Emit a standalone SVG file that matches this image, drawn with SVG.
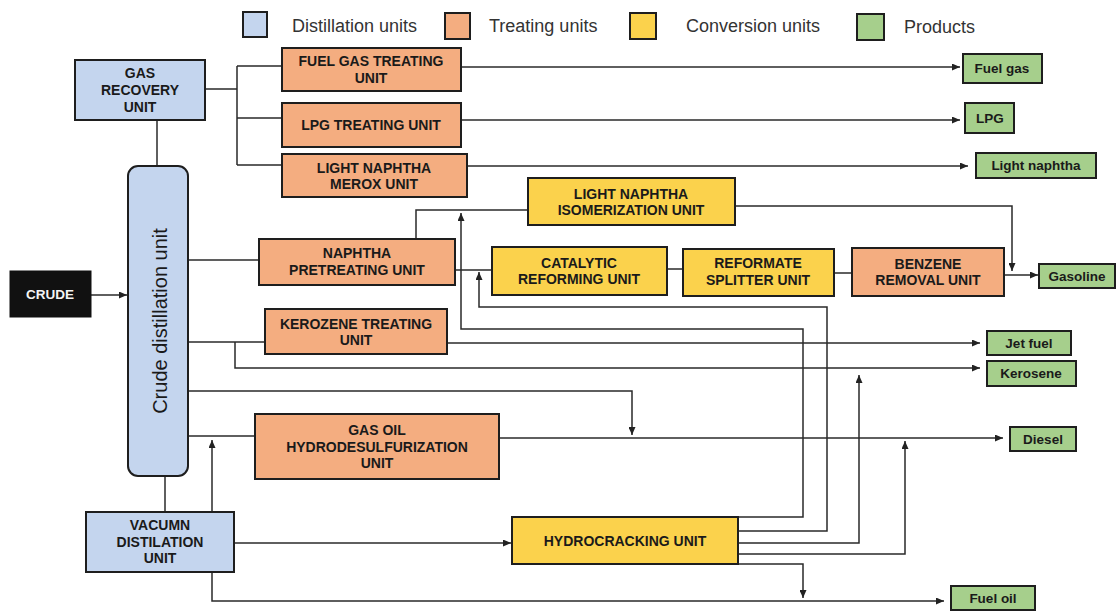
<svg xmlns="http://www.w3.org/2000/svg" width="1117" height="611" viewBox="0 0 1117 611">
  <defs>
    <marker id="arrow" viewBox="0 0 8 7" refX="8" refY="3.5" markerWidth="8" markerHeight="7" markerUnits="userSpaceOnUse" orient="auto">
      <path d="M0,0 L8,3.5 L0,7 z" fill="#222"/>
    </marker>
  </defs>
  <style>
    .box { stroke: #1e1e1e; stroke-width: 2; }
    .dist { fill: #c4d5ee; }
    .treat { fill: #f4ad80; }
    .conv { fill: #fbd24c; }
    .prod { fill: #a6cf8c; }
    .lbl { font-family: "Comic Sans MS", "Liberation Sans", sans-serif; font-weight: bold; font-size: 14px; fill: #1a1a1a; text-anchor: middle; }
    .plbl { font-family: "Comic Sans MS", "Liberation Sans", sans-serif; font-weight: bold; font-size: 13.5px; fill: #1a1a1a; text-anchor: middle; }
    .legend { font-family: "Liberation Sans", Arial, sans-serif; font-size: 18px; fill: #333; }
    .conn path { fill: none; stroke: #2a2a2a; stroke-width: 1.5; }
    .arr { marker-end: url(#arrow); }
  </style>

  <rect width="1117" height="611" fill="#ffffff"/>

  <!-- legend -->
  <g id="legend">
    <rect class="box dist" x="243" y="12" width="24" height="25" stroke-width="1.5"/>
    <text class="legend" x="292" y="32">Distillation units</text>
    <rect class="box treat" x="445" y="13" width="25" height="26" stroke-width="1.5"/>
    <text class="legend" x="489" y="32">Treating units</text>
    <rect class="box conv" x="630" y="13" width="26" height="26" stroke-width="1.5"/>
    <text class="legend" x="686" y="32">Conversion units</text>
    <rect class="box prod" x="857" y="14" width="27" height="26" stroke-width="1.5"/>
    <text class="legend" x="904" y="33">Products</text>
  </g>

  <!-- connectors -->
  <g id="connectors" class="conn">
    <path d="M157,120 V166"/>
    <path d="M205,89 H237 M237,66 V165 M237,66 H282 M237,118 H282 M237,165 H282"/>
    <path class="arr" d="M461,67 H960"/>
    <path class="arr" d="M461,120 H960"/>
    <path class="arr" d="M467,166 H968"/>
    <path class="arr" d="M91,295 H127"/>
    <path d="M189,260 H259"/>
    <path d="M416,239 V210 H528"/>
    <path d="M455,270 H492"/>
    <path d="M667,269 H683"/>
    <path d="M834,273 H852"/>
    <path class="arr" d="M1004,275 H1038"/>
    <path class="arr" d="M735,206 H1012 V271"/>
    <path d="M189,342 H265"/>
    <path class="arr" d="M235,342 V368 H980"/>
    <path class="arr" d="M447,343 H980"/>
    <path class="arr" d="M189,391 H632 V435"/>
    <path d="M189,436 H255"/>
    <path class="arr" d="M499,438 H1003"/>
    <path d="M165,476 V512"/>
    <path class="arr" d="M212,512 V440"/>
    <path class="arr" d="M234,543 H511"/>
    <path class="arr" d="M212,572 V601 H944"/>
    <path class="arr" d="M738,517 H803 V329 H461 V213"/>
    <path class="arr" d="M738,531 H827 V307 H479 V272"/>
    <path class="arr" d="M738,543 H859 V375"/>
    <path class="arr" d="M738,554 H905 V441"/>
    <path class="arr" d="M738,564 H803 V598"/>
  </g>

  <!-- feed -->
  <g id="crude">
    <rect x="10" y="271" width="81" height="46" fill="#111" stroke="#111" stroke-width="1"/>
    <text class="lbl" x="50" y="299" style="fill:#f4f4f4;font-size:13.5px">CRUDE</text>
  </g>

  <!-- distillation units -->
  <g id="crude-distillation-unit">
    <rect class="box dist" x="128" y="166" width="60" height="310" rx="10"/>
    <text x="0" y="0" transform="translate(167,321) rotate(-90)" font-family="'Comic Sans MS', 'Liberation Sans', sans-serif" font-size="20" fill="#1a1a1a" text-anchor="middle">Crude distillation unit</text>
  </g>
  <g id="gas-recovery-unit">
    <rect class="box dist" x="75" y="60" width="130" height="60"/>
    <text class="lbl" x="140" y="78">GAS</text>
    <text class="lbl" x="140" y="95">RECOVERY</text>
    <text class="lbl" x="140" y="112">UNIT</text>
  </g>
  <g id="vacuum-distillation-unit">
    <rect class="box dist" x="86" y="512" width="148" height="60"/>
    <text class="lbl" x="160" y="530">VACUMN</text>
    <text class="lbl" x="160" y="547">DISTILATION</text>
    <text class="lbl" x="160" y="563">UNIT</text>
  </g>

  <!-- treating units -->
  <g id="fuel-gas-treating-unit">
    <rect class="box treat" x="282" y="48" width="179" height="43"/>
    <text class="lbl" x="371" y="66">FUEL GAS TREATING</text>
    <text class="lbl" x="371" y="83">UNIT</text>
  </g>
  <g id="lpg-treating-unit">
    <rect class="box treat" x="282" y="103" width="179" height="44"/>
    <text class="lbl" x="371" y="130">LPG TREATING UNIT</text>
  </g>
  <g id="light-naphtha-merox-unit">
    <rect class="box treat" x="282" y="154" width="185" height="43"/>
    <text class="lbl" x="374" y="173">LIGHT NAPHTHA</text>
    <text class="lbl" x="374" y="189">MEROX UNIT</text>
  </g>
  <g id="naphtha-pretreating-unit">
    <rect class="box treat" x="259" y="239" width="196" height="46"/>
    <text class="lbl" x="357" y="258">NAPHTHA</text>
    <text class="lbl" x="357" y="275">PRETREATING UNIT</text>
  </g>
  <g id="kerozene-treating-unit">
    <rect class="box treat" x="265" y="309" width="182" height="45"/>
    <text class="lbl" x="356" y="329">KEROZENE TREATING</text>
    <text class="lbl" x="356" y="345">UNIT</text>
  </g>
  <g id="gas-oil-hds-unit">
    <rect class="box treat" x="255" y="414" width="244" height="65"/>
    <text class="lbl" x="377" y="435">GAS OIL</text>
    <text class="lbl" x="377" y="452">HYDRODESULFURIZATION</text>
    <text class="lbl" x="377" y="468">UNIT</text>
  </g>
  <g id="benzene-removal-unit">
    <rect class="box treat" x="852" y="248" width="152" height="48"/>
    <text class="lbl" x="928" y="269">BENZENE</text>
    <text class="lbl" x="928" y="285">REMOVAL UNIT</text>
  </g>

  <!-- conversion units -->
  <g id="isomerization-unit">
    <rect class="box conv" x="528" y="178" width="207" height="47"/>
    <text class="lbl" x="631" y="199">LIGHT NAPHTHA</text>
    <text class="lbl" x="631" y="215">ISOMERIZATION UNIT</text>
  </g>
  <g id="catalytic-reforming-unit">
    <rect class="box conv" x="492" y="247" width="175" height="48"/>
    <text class="lbl" x="579" y="268">CATALYTIC</text>
    <text class="lbl" x="579" y="284">REFORMING UNIT</text>
  </g>
  <g id="reformate-splitter-unit">
    <rect class="box conv" x="683" y="249" width="151" height="47"/>
    <text class="lbl" x="758" y="268">REFORMATE</text>
    <text class="lbl" x="758" y="285">SPLITTER UNIT</text>
  </g>
  <g id="hydrocracking-unit">
    <rect class="box conv" x="512" y="517" width="226" height="47"/>
    <text class="lbl" x="625" y="546">HYDROCRACKING UNIT</text>
  </g>

  <!-- products -->
  <g id="fuel-gas">
    <rect class="box prod" x="963" y="54" width="79" height="29"/>
    <text class="plbl" x="1002" y="73">Fuel gas</text>
  </g>
  <g id="lpg">
    <rect class="box prod" x="965" y="103" width="49" height="30"/>
    <text class="plbl" x="990" y="123">LPG</text>
  </g>
  <g id="light-naphtha">
    <rect class="box prod" x="976" y="153" width="120" height="25"/>
    <text class="plbl" x="1036" y="170">Light naphtha</text>
  </g>
  <g id="gasoline">
    <rect class="box prod" x="1039" y="264" width="76" height="24"/>
    <text class="plbl" x="1077" y="281">Gasoline</text>
  </g>
  <g id="jet-fuel">
    <rect class="box prod" x="987" y="331" width="84" height="24"/>
    <text class="plbl" x="1029" y="348">Jet fuel</text>
  </g>
  <g id="kerosene">
    <rect class="box prod" x="987" y="361" width="89" height="25"/>
    <text class="plbl" x="1031" y="378">Kerosene</text>
  </g>
  <g id="diesel">
    <rect class="box prod" x="1010" y="427" width="66" height="24"/>
    <text class="plbl" x="1043" y="444">Diesel</text>
  </g>
  <g id="fuel-oil">
    <rect class="box prod" x="951" y="586" width="84" height="24"/>
    <text class="plbl" x="993" y="603">Fuel oil</text>
  </g>
</svg>
